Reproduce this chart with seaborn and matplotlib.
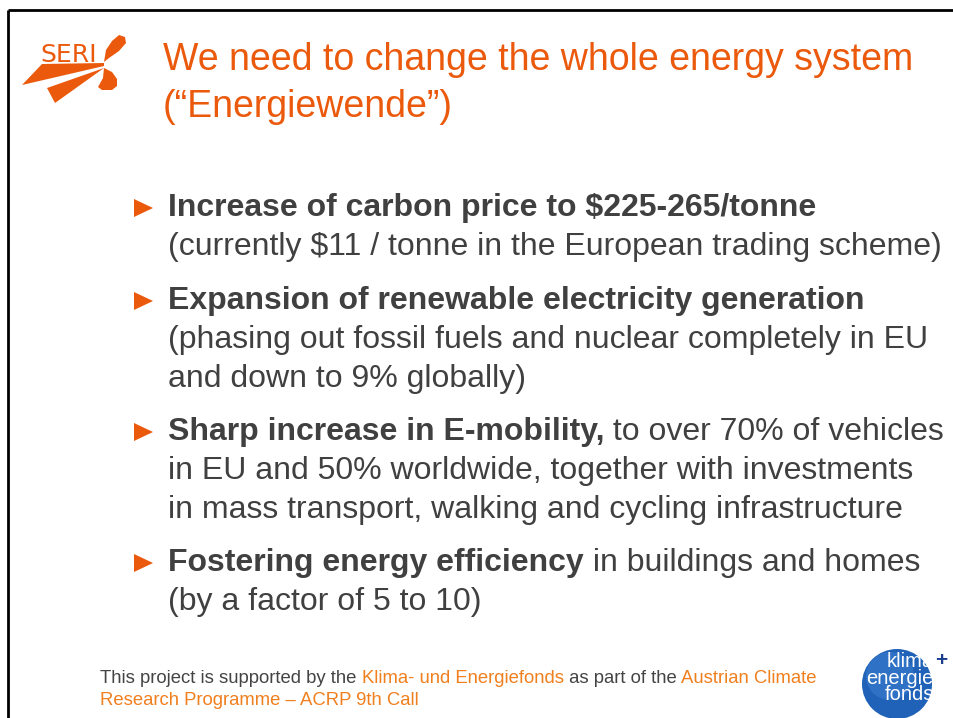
import seaborn as sns
import matplotlib.pyplot as plt
from matplotlib.patches import Polygon, Circle

# slide content
title_lines = ["We need to change the whole energy system", "(\u201cEnergiewende\u201d)"]
bullet_heads = ["Increase of carbon price to $225-265/tonne",
                "Expansion of renewable electricity generation",
                "Sharp increase in E-mobility,",
                "Fostering energy efficiency"]
bullet_tails = ["", "", " to over 70% of vehicles", " in buildings and homes"]
bullet_more = [["(currently $11 / tonne in the European trading scheme)"],
               ["(phasing out fossil fuels and nuclear completely in EU", "and down to 9% globally)"],
               ["in EU and 50% worldwide, together with investments",
                "in mass transport, walking and cycling infrastructure"],
               ["(by a factor of 5 to 10)"]]
bullet_base = [216, 309, 440, 571]
footer_1 = [("This project is supported by the ", "grey"), ("Klima- und Energiefonds", "orange"),
            (" as part of the ", "grey"), ("Austrian Climate", "orange")]
footer_2 = "Research Programme \u2013 ACRP 9th Call"
logo_words = ["klima", "energie", "fonds"]

sns.set_theme(style="white")
plt.rcParams['font.family'] = ['Liberation Sans', 'DejaVu Sans']

ORANGE = "#EB5A0C"
ORANGE2 = "#F07F1E"
GREY = "#404040"
cols = {"grey": "#444444", "orange": ORANGE2}

fig = plt.figure(figsize=(9.54, 7.18), dpi=100)
ax = fig.add_axes([0, 0, 1, 1])
ax.set_xlim(0, 954)
ax.set_ylim(718, 0)
ax.axis("off")

# slide border
ax.plot([8, 954], [10, 10], color="black", lw=2, solid_capstyle="butt")
ax.plot([8, 8], [10, 718], color="black", lw=2, solid_capstyle="butt")

# SERI logo
ax.add_patch(Polygon([(22, 85), (42, 64), (104, 63), (104, 66)], color=ORANGE, lw=0))
ax.add_patch(Polygon([(47, 88), (55, 103), (104, 68)], color=ORANGE, lw=0))
ax.add_patch(Polygon([(104, 62), (106, 50), (112, 41), (119, 35), (125, 37), (126, 43),
                      (119, 51), (109, 58)], color=ORANGE, lw=0))
ax.add_patch(Polygon([(104, 68), (112, 72), (117, 79), (117, 86), (112, 90), (102, 90),
                      (98, 87), (103, 78)], color=ORANGE, lw=0))
ax.text(40, 62, "SERI", color=ORANGE, fontsize=18, va="baseline",
        family=['DejaVu Sans'])

# title
for i, t in enumerate(title_lines):
    ax.text(163, 70 + i * 47, t, color=ORANGE, fontsize=27, va="baseline")

# bullets
FS = 23
for i, head in enumerate(bullet_heads):
    y = bullet_base[i]
    ax.add_patch(Polygon([(134, y - 17), (134, y + 1), (153, y - 8)], color=ORANGE, lw=0))
    h = ax.text(168, y, head, color=GREY, fontsize=FS, fontweight="bold", va="baseline")
    if bullet_tails[i]:
        ax.annotate(bullet_tails[i], xy=(1, 0), xycoords=h, va="bottom", ha="left",
                    color=GREY, fontsize=FS)
    for j, line in enumerate(bullet_more[i]):
        ax.text(168, y + 39 * (j + 1), line, color=GREY, fontsize=FS, va="baseline")

# footer
prev = ax.text(100, 683, footer_1[0][0], color=cols[footer_1[0][1]], fontsize=13.3, va="baseline")
for txt, c in footer_1[1:]:
    prev = ax.annotate(txt, xy=(1, 0), xycoords=prev, va="bottom", ha="left",
                       color=cols[c], fontsize=13.3)
ax.text(100, 705, footer_2, color=ORANGE2, fontsize=13.3, va="baseline")

# klima- und energiefonds logo
ax.add_patch(Circle((897, 684), 35, color="#1F62B8", lw=0))
ax.add_patch(Circle((890, 676), 24, color="#3F83D3", lw=0, alpha=0.5))
ax.text(934, 700, "\n".join(logo_words), color="white", fontsize=14.5, ha="right",
        va="baseline", multialignment="right", linespacing=0.82)
ax.text(941, 666, "+", color="#1A3E8C", fontsize=15, ha="center", va="baseline",
        fontweight="bold")

fig.savefig("out.png", dpi=100)
